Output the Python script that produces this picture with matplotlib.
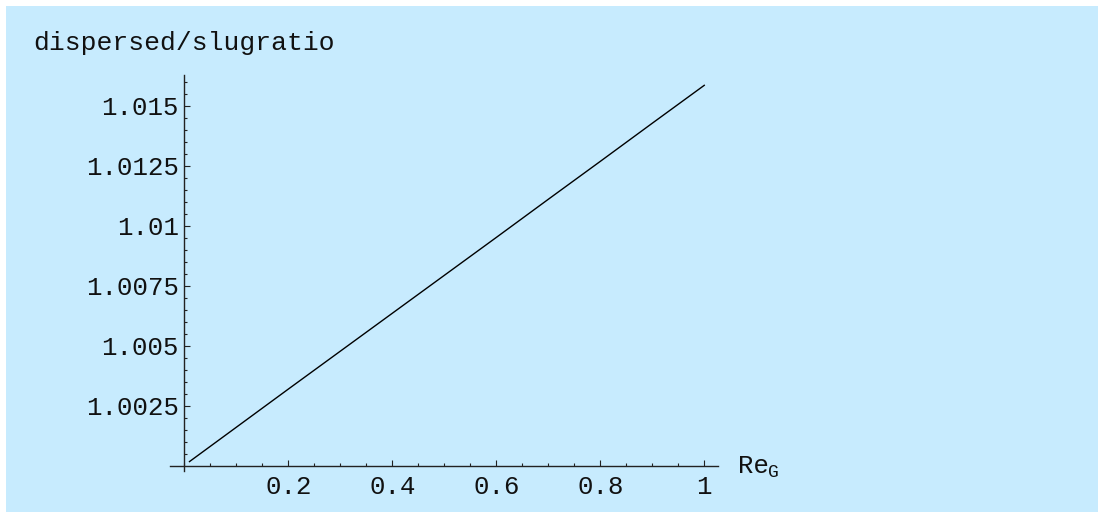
import matplotlib.pyplot as plt
from matplotlib.patches import Rectangle
from matplotlib.ticker import FixedLocator, MultipleLocator

# dispersed/slug ratio against gas Reynolds number
re_g = [0.01, 0.1, 0.2, 0.3, 0.4, 0.5, 0.6, 0.7, 0.8, 0.9, 1.0]
ratio = [1.00017, 1.00160, 1.00319, 1.00477, 1.00635, 1.00793,
         1.00951, 1.01110, 1.01268, 1.01427, 1.01585]

x_ticks = [0.2, 0.4, 0.6, 0.8, 1.0]
x_labels = ['0.2', '0.4', '0.6', '0.8', '1']
y_ticks = [1.0025, 1.005, 1.0075, 1.01, 1.0125, 1.015]
y_labels = ['1.0025', '1.005', '1.0075', '1.01', '1.0125', '1.015']

W, H = 1098, 512
bg = '#c7ebfe'
font = 'Liberation Mono'
fs = 18.5

fig = plt.figure(figsize=(W / 100, H / 100), dpi=100)
fig.patch.set_facecolor('white')
fig.patches.append(Rectangle((6 / W, 0), 1 - 6 / W, 1 - 6 / H, transform=fig.transFigure,
                             facecolor=bg, edgecolor='none', zorder=-10))

ax = fig.add_axes([170 / W, 41.3 / H, 548.3 / W, 395.7 / H])
ax.set_facecolor('none')
ax.plot(re_g, ratio, color='black', lw=1.0)

ax.set_xlim(-0.0275, 1.027)
ax.set_ylim(0.99979, 1.01628)

for side in ('top', 'right'):
    ax.spines[side].set_visible(False)
ax.spines['left'].set_position(('data', 0))
ax.spines['bottom'].set_position(('data', 1.0))
for side in ('left', 'bottom'):
    ax.spines[side].set_color('#222222')
    ax.spines[side].set_linewidth(1.0)

ax.xaxis.set_major_locator(FixedLocator(x_ticks))
ax.set_xticklabels(x_labels)
ax.xaxis.set_minor_locator(MultipleLocator(0.05))
ax.yaxis.set_major_locator(FixedLocator(y_ticks))
ax.set_yticklabels(y_labels)
ax.yaxis.set_minor_locator(FixedLocator([1.0 + 0.0005 * i for i in range(1, 33)]))

ax.tick_params(which='both', direction='in', color='#222222', width=0.8)
ax.tick_params(which='major', length=4.5)
ax.tick_params(which='minor', length=2.5)
ax.tick_params(axis='x', which='major', pad=7)
ax.tick_params(axis='y', which='major', pad=4)
for lab in ax.get_xticklabels() + ax.get_yticklabels():
    lab.set_fontfamily(font)
    lab.set_fontsize(fs)
    lab.set_color('#111111')

fig.text(33 / W, 1 - 50 / H, 'dispersed/slugratio', family=font, fontsize=19,
         color='#111111', va='baseline', ha='left')
fig.text(738 / W, 1 - 473 / H, 'Re', family=font, fontsize=fs,
         color='#111111', va='baseline', ha='left')
fig.text(768 / W, 1 - 477 / H, 'G', family=font, fontsize=13,
         color='#111111', va='baseline', ha='left')

fig.savefig('out.png', dpi=100, facecolor=fig.get_facecolor())
